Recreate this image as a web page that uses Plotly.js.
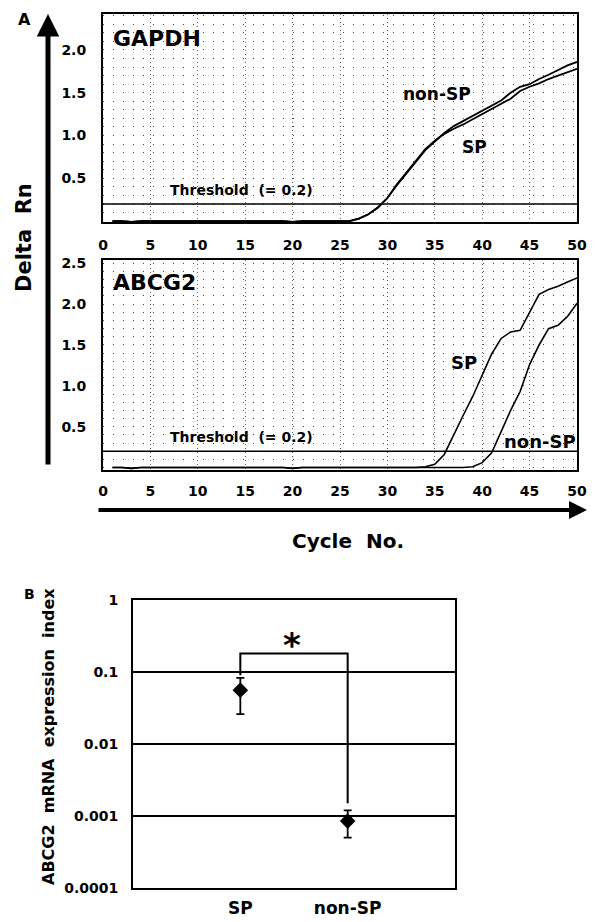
<!DOCTYPE html>
<html>
<head>
<meta charset="utf-8">
<script src="https://cdn.plot.ly/plotly-3.0.1.min.js"></script>
<style>html,body{margin:0;padding:0;background:#fff;}#chart{width:599px;height:922px;}</style>
</head>
<body>
<div id="chart"></div>
<script>
// ---------- data ----------
const cycles = [1,2,3,4,5,6,7,8,9,10,11,12,13,14,15,16,17,18,19,20,21,22,23,24,25,26,27,28,29,30,31,32,33,34,35,36,37,38,39,40,41,42,43,44,45,46,47,48,49,50];
const gapdhNonSP = [0,0,-0.01,0,0,0,0,0,0,0,0,0,0,0,0,0,0,0,0,-0.01,0,0,0,0,0,0,
  0.03,0.08,0.16,0.27,0.42,0.56,0.70,0.83,0.93,1.03,1.11,1.17,1.23,1.29,1.35,1.41,1.50,1.57,1.60,1.66,1.71,1.77,1.82,1.86];
const gapdhSP = [0,0,-0.01,0,0,0,0,0,0,0,0,0,0,0,0,0,0,0,0,-0.01,0,0,0,0,0,0,
  0.03,0.08,0.16,0.27,0.43,0.57,0.71,0.84,0.94,1.02,1.08,1.13,1.19,1.25,1.31,1.37,1.43,1.52,1.57,1.61,1.66,1.70,1.74,1.78];
const abcgSP = [0,0,-0.01,0,0,0,0,0,0,0,0,0,0,0,0,0,0,0,0,-0.01,0,0,0,0,0,0,0,0,0,0,0,0,0,
  0.01,0.04,0.16,0.41,0.64,0.87,1.14,1.39,1.58,1.66,1.68,1.90,2.12,2.18,2.22,2.27,2.32];
const abcgNonSP = [0,0,-0.01,0,0,0,0,0,0,0,0,0,0,0,0,0,0,0,0,-0.01,0,0,0,0,0,0,0,0,0,0,0,0,0,0,0,0,0,0,
  0.01,0.06,0.18,0.44,0.70,0.93,1.26,1.50,1.70,1.74,1.85,2.01];
const thresholdX = [0, 50];
const thresholdY = [0.2, 0.2];
const cycleTicks = [0,5,10,15,20,25,30,35,40,45,50];
const gapdhYTicks = [0.5,1.0,1.5,2.0];
const abcgYTicks = [0.5,1.0,1.5,2.0,2.5];

// panel B
const groups = ['SP','non-SP'];
const groupPos = [1, 2];
const expr = [0.056, 0.00085];
const exprPlus = [0.027, 0.00035];
const exprMinus = [0.030, 0.00035];
const bracketX = [1, 1, 2, 2];
const bracketY = [0.09, 0.18, 0.18, 0.0015];
const logTicks = [0.0001, 0.001, 0.01, 0.1, 1];
const logTickText = ['0.0001','0.001','0.01','0.1','1'];

// ---------- helpers (pixel -> paper) ----------
const W = 599, H = 922;
const px = x => x / W;
const py = y => 1 - y / H;

const traces = [
  {x: cycles, y: gapdhNonSP, xaxis:'x', yaxis:'y', mode:'lines', line:{color:'#000', width:1.8}},
  {x: cycles, y: gapdhSP, xaxis:'x', yaxis:'y', mode:'lines', line:{color:'#000', width:1.8}},
  {x: thresholdX, y: thresholdY, xaxis:'x', yaxis:'y', mode:'lines', line:{color:'#000', width:1.5}},
  {x: cycles, y: abcgSP, xaxis:'x2', yaxis:'y2', mode:'lines', line:{color:'#000', width:1.6}},
  {x: cycles, y: abcgNonSP, xaxis:'x2', yaxis:'y2', mode:'lines', line:{color:'#000', width:1.6}},
  {x: thresholdX, y: thresholdY, xaxis:'x2', yaxis:'y2', mode:'lines', line:{color:'#000', width:1.5}},
  {x: bracketX, y: bracketY, xaxis:'x3', yaxis:'y3', mode:'lines', line:{color:'#000', width:2}},
  {x: groupPos, y: expr, xaxis:'x3', yaxis:'y3', mode:'markers',
   marker:{symbol:'diamond', size:12, color:'#000'},
   error_y:{type:'data', array: exprPlus, arrayminus: exprMinus, color:'#000', thickness:1.8, width:4}}
];

const boxAxis = {showline:true, mirror:true, linecolor:'#000', linewidth:2, zeroline:false, ticks:''};
const font = {family:'DejaVu Sans', size:14, color:'#000', weight:'bold'};

function paperText(x, y, text, size, angle) {
  return {xref:'paper', yref:'paper', x:px(x), y:py(y), xanchor:'center', yanchor:'middle',
          text:text, showarrow:false, textangle: angle || 0, font:{size:size}};
}

const layout = {
  width: W, height: H,
  margin:{l:0, r:0, t:0, b:0},
  paper_bgcolor:'#fff', plot_bgcolor:'#fff',
  showlegend:false,
  font: font,
  xaxis: Object.assign({}, boxAxis, {
    domain:[px(103), px(577)], range:[0,50], anchor:'y',
    tickvals: cycleTicks, ticklabelstandoff: 9, tickfont:{size:14},
    showgrid:true, gridcolor:'#666', griddash:'1px,3px', gridwidth:1
  }),
  yaxis: Object.assign({}, boxAxis, {
    domain:[py(222), py(14)], range:[-0.01, 2.42], anchor:'x',
    tickvals: gapdhYTicks, tickformat:'.1f', ticklabelstandoff: 12, tickfont:{size:14},
    showgrid:true, gridcolor:'#444', griddash:'1px,9px',
    minor:{dtick:0.1, tick0:0, showgrid:true, gridcolor:'#444', griddash:'1px,9px', ticks:''}
  }),
  xaxis2: Object.assign({}, boxAxis, {
    domain:[px(103), px(577)], range:[0,50], anchor:'y2',
    tickvals: cycleTicks, ticklabelstandoff: 7, tickfont:{size:14},
    showgrid:true, gridcolor:'#666', griddash:'1px,3px', gridwidth:1
  }),
  yaxis2: Object.assign({}, boxAxis, {
    domain:[py(470), py(260)], range:[-0.03, 2.54], anchor:'x2',
    tickvals: abcgYTicks, tickformat:'.1f', ticklabelstandoff: 12, tickfont:{size:14},
    showgrid:true, gridcolor:'#444', griddash:'1px,9px',
    minor:{dtick:0.1, tick0:0, showgrid:true, gridcolor:'#444', griddash:'1px,9px', ticks:''}
  }),
  xaxis3: Object.assign({}, boxAxis, {
    domain:[px(133), px(455)], range:[0,3], anchor:'y3',
    tickvals: groupPos, ticktext: groups, ticklabelstandoff: 4, tickfont:{size:17},
    showgrid:false
  }),
  yaxis3: Object.assign({}, boxAxis, {
    domain:[py(888), py(600)], type:'log', range:[-4, 0], anchor:'x3',
    tickvals: logTicks, ticktext: logTickText, ticklabelstandoff: 10, tickfont:{size:14},
    showgrid:true, gridcolor:'#000', gridwidth:1.5
  }),
  annotations: [
    // axis arrows
    {xref:'paper', yref:'paper', x:px(48), y:py(14), ax:0, ay:452, axref:'pixel', ayref:'pixel',
     text:'', showarrow:true, arrowhead:2, arrowsize:0.9, arrowwidth:5, arrowcolor:'#000', standoff:0},
    {xref:'paper', yref:'paper', x:px(587), y:py(510), ax:-490, ay:0, axref:'pixel', ayref:'pixel',
     text:'', showarrow:true, arrowhead:2, arrowsize:0.9, arrowwidth:4, arrowcolor:'#000', standoff:0},
    // panel letters and titles
    paperText(24, 20, 'A', 16),
    paperText(29, 594, 'B', 14),
    paperText(24, 238, 'Delta  Rn', 21, -90),
    paperText(348, 541, 'Cycle  No.', 20),
    paperText(48, 737, 'ABCG2  mRNA  expression  index', 16, -90),
    // panel A labels (data coords)
    {xref:'x', yref:'y', x:5.7, y:2.13, text:'GAPDH', showarrow:false, font:{size:22}},
    {xref:'x', yref:'y', x:35.2, y:1.49, text:'non-SP', showarrow:false, font:{size:17}},
    {xref:'x', yref:'y', x:39.2, y:0.87, text:'SP', showarrow:false, font:{size:17}},
    {xref:'x', yref:'y', x:14.6, y:0.36, text:'Threshold  (= 0.2)', showarrow:false, font:{size:14}},
    {xref:'x2', yref:'y2', x:5.4, y:2.26, text:'ABCG2', showarrow:false, font:{size:22}},
    {xref:'x2', yref:'y2', x:38.1, y:1.28, text:'SP', showarrow:false, font:{size:18}},
    {xref:'x2', yref:'y2', x:46.1, y:0.32, text:'non-SP', showarrow:false, font:{size:18}},
    {xref:'x2', yref:'y2', x:14.6, y:0.38, text:'Threshold  (= 0.2)', showarrow:false, font:{size:14}},
    // panel B significance star
    {xref:'x3', yref:'y3', x:1.48, y:Math.log10(0.24), text:'*', showarrow:false, font:{size:34}}
  ]
};

Plotly.newPlot('chart', traces, layout, {staticPlot:true, displayModeBar:false});
</script>
</body>
</html>
